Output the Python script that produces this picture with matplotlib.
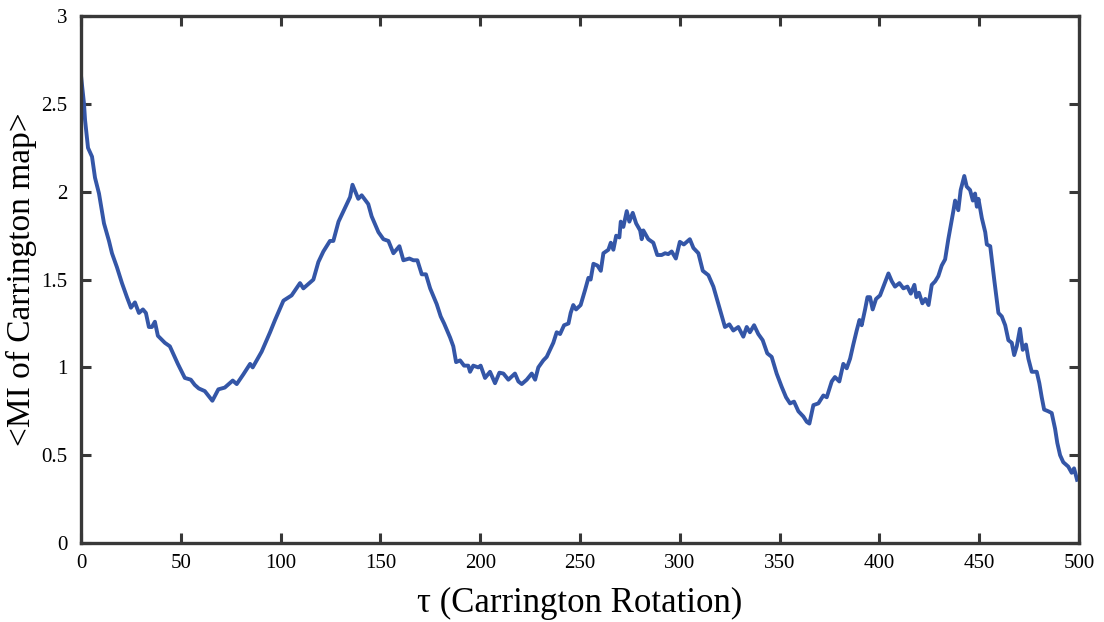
import matplotlib
matplotlib.use("Agg")
import matplotlib.pyplot as plt
import numpy as np

# curve: tau (Carrington rotation) vs <MI>
tau = [
    0, 1.5, 2, 3.5, 5.5, 7, 9, 11.5, 14, 15.5, 18, 20.5, 23, 25, 27, 29,
    31, 32.5, 34, 35.5, 37, 38.5, 42, 44.5, 48.5, 52, 55, 57, 59, 62, 65.8,
    68.8, 72, 76, 78, 81.3, 84.7, 86, 90.5, 94.7, 97.2, 101.4, 105.5, 109.7,
    111.4, 116.4, 118.9, 121.4, 124.7, 126.4, 129, 132.3, 134.8, 136, 138.9,
    140.6, 143.9, 145.6, 149, 151.5, 154, 156.5, 159.5, 161.5, 164.5, 166.5,
    168.5, 170.7, 172.8, 174.9, 178.2, 180.2, 181.9, 184.9, 186.5, 187.9,
    189.9, 191.9, 194, 194.9, 196.5, 199, 200.2, 202.4, 204.9, 207.4, 209.6,
    211.6, 214.1, 217.4, 219.1, 220.8, 223.3, 225.8, 227.5, 229.1, 231.6,
    233.3, 236.6, 238.3, 240, 242, 244.2, 245.3, 246.6, 248, 250.3, 252.5,
    254.2, 255.3, 256.7, 258.7, 260.4, 261.7, 264.2, 265.4, 266.7, 268.1,
    269.7, 270.4, 271.7, 273.4, 274.7, 276.4, 278.1, 280.1, 280.9, 281.7,
    284.2, 286.7, 288.7, 290.9, 292.6, 294.2, 295.9, 298, 300, 302, 305,
    306.8, 309.3, 311.5, 314.3, 316.8, 318.8, 321, 322.6, 324.8, 326.8,
    329.3, 331.8, 333.5, 335.1, 337.2, 339.3, 341.5, 343.8, 346, 348.5, 351,
    353.2, 355.2, 357.2, 359.4, 361.9, 363.6, 364.9, 366.9, 369.4, 371.9,
    373.6, 376.1, 377.7, 379.9, 381.9, 383.6, 385.3, 386.9, 388.6, 390,
    391.1, 392.8, 394, 395.3, 396.6, 398.3, 400.3, 402, 404.5, 406.2, 407.8,
    410, 412, 414, 415.7, 417.5, 418.5, 419.8, 421.5, 423, 424.6, 426.2,
    427.9, 429.5, 431.2, 432.9, 434.5, 437.1, 437.9, 439.5, 440.7, 442.5,
    443.7, 445.4, 446.8, 447.9, 448.8, 449.6, 451.3, 453, 453.8, 455.5,
    457.5, 459.6, 461.3, 463, 464.6, 466.3, 467.5, 468.8, 470.4, 471.8,
    473.4, 474.6, 476.3, 478.8, 480.1, 481.3, 482.5, 484.6, 486.3, 488,
    489.1, 490.5, 492.1, 494.6, 496.3, 497.5, 499,
]
mi = [
    2.66, 2.50, 2.41, 2.25, 2.20, 2.08, 1.99, 1.82, 1.72, 1.65, 1.57, 1.48,
    1.40, 1.34, 1.37, 1.31, 1.33, 1.31, 1.23, 1.23, 1.26, 1.18, 1.14, 1.12,
    1.02, 0.94, 0.93, 0.90, 0.88, 0.865, 0.81, 0.875, 0.885, 0.925, 0.905,
    0.96, 1.02, 1.00, 1.09, 1.20, 1.27, 1.38, 1.41, 1.48, 1.45, 1.50, 1.60,
    1.66, 1.72, 1.72, 1.83, 1.91, 1.97, 2.04, 1.96, 1.98, 1.93, 1.86, 1.77,
    1.73, 1.72, 1.65, 1.69, 1.61, 1.62, 1.61, 1.61, 1.53, 1.53, 1.45, 1.36,
    1.29, 1.25, 1.17, 1.12, 1.03, 1.04, 1.01, 1.01, 0.975, 1.01, 1.00, 1.01,
    0.94, 0.975, 0.91, 0.97, 0.965, 0.93, 0.965, 0.92, 0.905, 0.93, 0.965,
    0.93, 1.00, 1.04, 1.06, 1.14, 1.20, 1.19, 1.24, 1.25, 1.31, 1.355, 1.33,
    1.355, 1.44, 1.51, 1.50, 1.59, 1.58, 1.55, 1.65, 1.67, 1.71, 1.67, 1.75,
    1.74, 1.83, 1.80, 1.89, 1.83, 1.88, 1.82, 1.78, 1.73, 1.78, 1.73, 1.71,
    1.64, 1.64, 1.65, 1.645, 1.66, 1.62, 1.715, 1.70, 1.73, 1.68, 1.65, 1.55,
    1.525, 1.46, 1.38, 1.29, 1.23, 1.245, 1.21, 1.23, 1.175, 1.23, 1.20,
    1.24, 1.19, 1.155, 1.08, 1.06, 0.965, 0.89, 0.83, 0.795, 0.805, 0.75,
    0.72, 0.69, 0.68, 0.785, 0.795, 0.84, 0.83, 0.92, 0.945, 0.92, 1.02,
    0.995, 1.05, 1.13, 1.21, 1.27, 1.24, 1.33, 1.40, 1.40, 1.33, 1.39, 1.41,
    1.46, 1.535, 1.49, 1.46, 1.48, 1.45, 1.46, 1.42, 1.47, 1.40, 1.425,
    1.365, 1.39, 1.355, 1.47, 1.49, 1.52, 1.58, 1.615, 1.73, 1.895, 1.95,
    1.895, 2.01, 2.09, 2.03, 2.01, 1.95, 1.99, 1.915, 1.96, 1.85, 1.77, 1.70,
    1.69, 1.50, 1.31, 1.29, 1.24, 1.155, 1.14, 1.07, 1.12, 1.22, 1.10, 1.13,
    1.05, 0.975, 0.975, 0.91, 0.83, 0.76, 0.75, 0.74, 0.65, 0.57, 0.50, 0.46,
    0.435, 0.40, 0.425, 0.36,
]
x_ticks = [0, 50, 100, 150, 200, 250, 300, 350, 400, 450, 500]
y_ticks = [0, 0.5, 1, 1.5, 2, 2.5, 3]
y_tick_labels = ["0", "0.5", "1", "1.5", "2", "2.5", "3"]

plt.rcParams["font.family"] = ["Liberation Serif", "DejaVu Serif"]
edge = "#383838"

fig = plt.figure(figsize=(11.04, 6.22), dpi=100)
ax = fig.add_axes([0.0734, 0.127, 0.904, 0.847])
ax.plot(tau, mi, color="#3456a7", linewidth=2.8, solid_joinstyle="round")

ax.set_xlim(0, 500)
ax.set_ylim(0, 3)
ax.set_xticks(x_ticks)
ax.set_yticks(y_ticks)
ax.set_yticklabels(y_tick_labels)
ax.tick_params(direction="in", length=7, width=2.2, color=edge,
               top=True, right=True, labelsize=15, pad=8)
ax.tick_params(axis="y", pad=10)
for s in ax.spines.values():
    s.set_linewidth(2.4)
    s.set_color(edge)

ax.set_xlabel("τ (Carrington Rotation)", fontsize=25, labelpad=10)
ax.set_ylabel("<MI of Carrington map>", fontsize=24, va="center")
ax.yaxis.set_label_coords(-0.06, 0.5)

fig.savefig("out.png", dpi=100)
